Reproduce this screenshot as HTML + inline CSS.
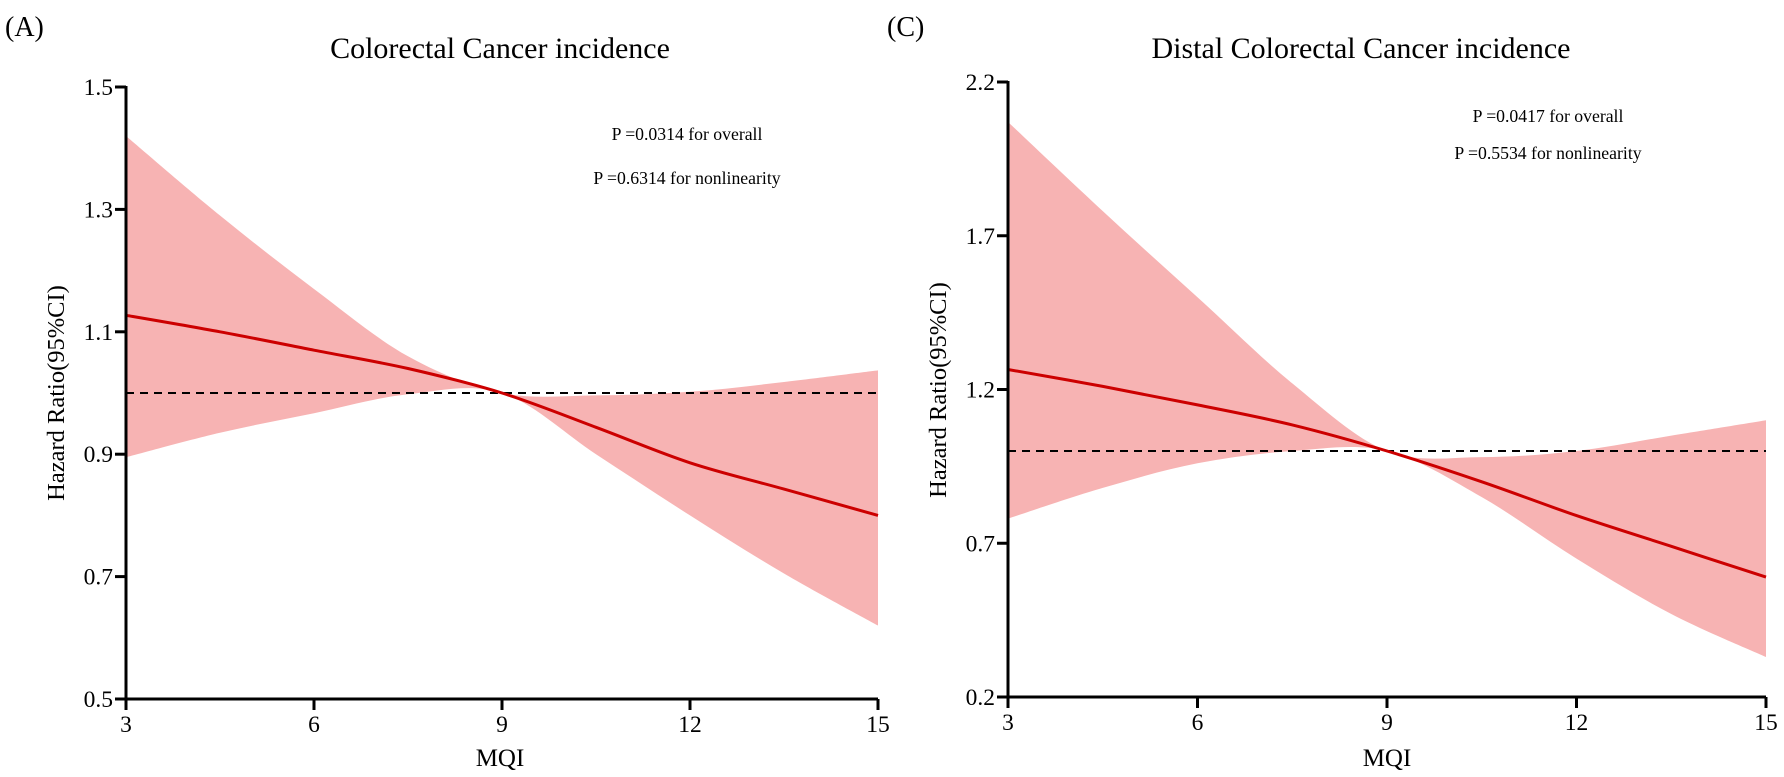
<!DOCTYPE html>
<html><head><meta charset="utf-8"><style>
html,body{margin:0;padding:0;background:#fff;}
svg{display:block;}
text{font-family:"Liberation Serif","DejaVu Serif",serif;fill:#000;}
</style></head><body>
<svg id="s" width="1784" height="777" viewBox="0 0 1784 777" xmlns="http://www.w3.org/2000/svg">
<g id="g"></g>
<text x="5" y="36" font-size="28">(A)</text>
<text x="887" y="36" font-size="28">(C)</text>
<text x="500" y="58" font-size="30" text-anchor="middle">Colorectal Cancer incidence</text>
<text x="1361" y="58" font-size="30" text-anchor="middle">Distal Colorectal Cancer incidence</text>
<text x="687" y="140" font-size="17.7" text-anchor="middle">P =0.0314 for overall</text>
<text x="687" y="184" font-size="17.7" text-anchor="middle">P =0.6314 for nonlinearity</text>
<text x="1548" y="122" font-size="17.7" text-anchor="middle">P =0.0417 for overall</text>
<text x="1548" y="159" font-size="17.7" text-anchor="middle">P =0.5534 for nonlinearity</text>
<text transform="translate(64,393) rotate(-90)" font-size="24.5" text-anchor="middle">Hazard Ratio(95%CI)</text>
<text transform="translate(946,390) rotate(-90)" font-size="24.5" text-anchor="middle">Hazard Ratio(95%CI)</text>
<text x="500" y="766" font-size="25" text-anchor="middle">MQI</text>
<text x="1387" y="766" font-size="25" text-anchor="middle">MQI</text>
</svg>
<script>
var NS="http://www.w3.org/2000/svg",G=document.getElementById('g');
function el(t,a){var e=document.createElementNS(NS,t);for(var k in a)e.setAttribute(k,a[k]);G.appendChild(e);return e;}
function txt(x,y,s,anchor){var e=el('text',{x:x,y:y,'font-size':23.5,'text-anchor':anchor});e.textContent=s;}
var xs=[3,4.5,6,7.5,9,10.5,12,13.5,15];
function spline(pts){var d='M'+pts[0][0].toFixed(1)+','+pts[0][1].toFixed(1);
 for(var i=0;i<pts.length-1;i++){var p0=pts[Math.max(i-1,0)],p1=pts[i],p2=pts[i+1],p3=pts[Math.min(i+2,pts.length-1)];
  var c1=[p1[0]+(p2[0]-p0[0])/6,p1[1]+(p2[1]-p0[1])/6],c2=[p2[0]-(p3[0]-p1[0])/6,p2[1]-(p3[1]-p1[1])/6];
  d+=' C'+c1[0].toFixed(1)+','+c1[1].toFixed(1)+' '+c2[0].toFixed(1)+','+c2[1].toFixed(1)+' '+p2[0].toFixed(1)+','+p2[1].toFixed(1);}
 return d;}
function panel(P){
 var X=function(v){return P.x0+(v-3)/12*(P.x1-P.x0);},Y=function(v){return P.y1-(v-P.vmin)/(P.vmax-P.vmin)*(P.y1-P.y0);};
 var up=xs.map(function(x,i){return [X(x),Y(P.up[i])];}),lo=xs.map(function(x,i){return [X(x),Y(P.lo[i])];});
 var lor=lo.slice().reverse();
 var d=spline(up)+' L'+lor[0][0]+','+lor[0][1]+spline(lor).replace(/^M[^C]*/,' ')+'Z';
 el('path',{d:d,fill:'#f7b3b3',stroke:'none'});
 el('line',{x1:X(3),x2:X(15),y1:Y(1),y2:Y(1),stroke:'#000','stroke-width':2,'stroke-dasharray':'8,6'});
 el('path',{d:spline(xs.map(function(x,i){return [X(x),Y(P.ln[i])];})),fill:'none',stroke:'#cc0000','stroke-width':3});
 el('path',{d:'M'+P.x0+','+(P.y0-1)+' L'+P.x0+','+P.y1+' L'+P.x1+','+P.y1,fill:'none',stroke:'#000','stroke-width':3});
 P.ticks.forEach(function(t){var y=Y(t);el('line',{x1:P.x0-11,x2:P.x0,y1:y,y2:y,stroke:'#000','stroke-width':3});txt(P.x0-13,y+8,t.toFixed(1),'end');});
 [3,6,9,12,15].forEach(function(t){var x=X(t);el('line',{x1:x,x2:x,y1:P.y1,y2:P.y1+11,stroke:'#000','stroke-width':3});txt(x,P.y1+33,String(t),'middle');});
}
panel({x0:126,x1:878,y0:87,y1:699,vmin:0.5,vmax:1.5,ticks:[0.5,0.7,0.9,1.1,1.3,1.5],
 ln:[1.127,1.10,1.07,1.04,1.0,0.944,0.886,0.843,0.80],
 up:[1.42,1.29,1.17,1.06,1.0,0.996,1.002,1.018,1.037],
 lo:[0.895,0.935,0.967,0.998,1.0,0.90,0.80,0.705,0.62]});
panel({x0:1008,x1:1766,y0:82,y1:697,vmin:0.2,vmax:2.2,ticks:[0.2,0.7,1.2,1.7,2.2],
 ln:[1.265,1.21,1.15,1.085,1.0,0.9,0.79,0.69,0.59],
 up:[2.07,1.78,1.50,1.22,1.0,0.98,1.0,1.05,1.10],
 lo:[0.78,0.88,0.96,1.0,1.0,0.85,0.65,0.47,0.33]});
</script>
</body></html>
